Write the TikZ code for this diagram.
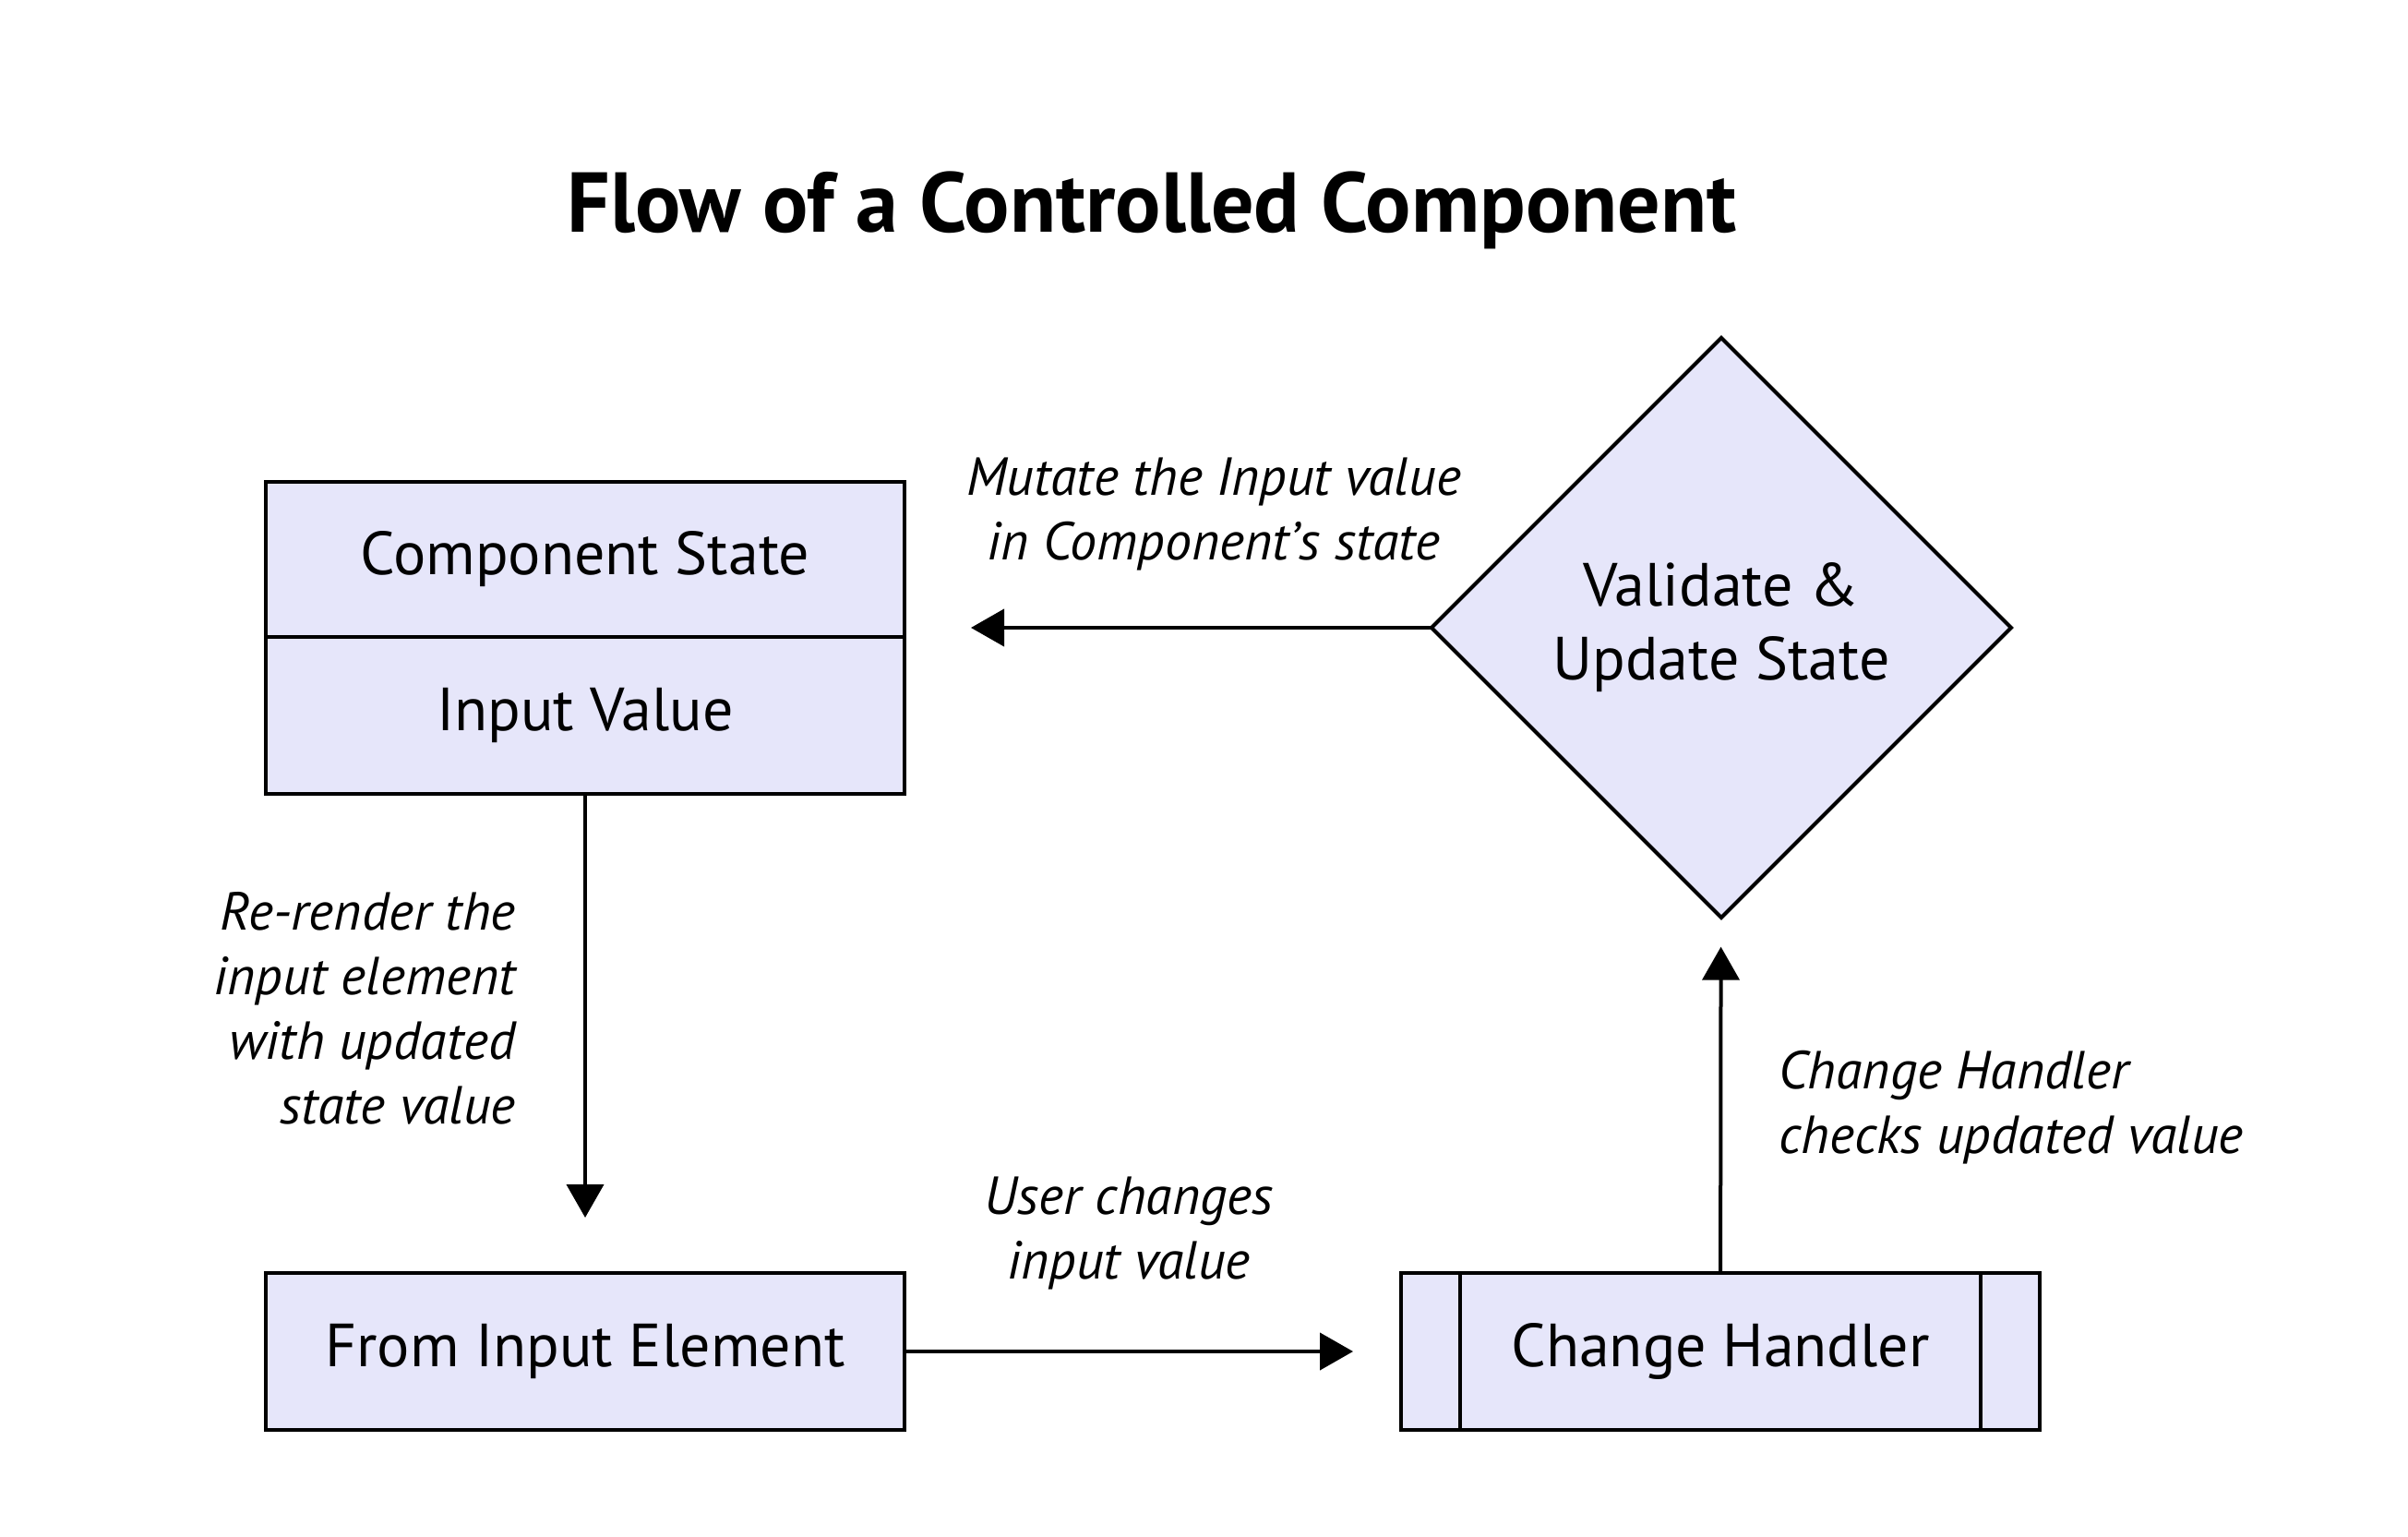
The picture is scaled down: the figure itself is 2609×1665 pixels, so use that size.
\documentclass[tikz,border=0pt]{standalone}
\usepackage{fontspec}
\setmainfont{PT Sans}
\usetikzlibrary{calc,shapes.geometric,arrows.meta}

\definecolor{boxfill}{HTML}{E6E6FA}

\begin{document}
\begin{tikzpicture}[x=0.5pt, y=-0.5pt, %one unit is one pixel of the picture, y runs down
  box/.style={draw, line width=2pt, fill=boxfill, minimum width=346pt, minimum height=85pt, inner sep=0pt, outer sep=0pt, font=\fontsize{33}{40}\selectfont},
  lbl/.style={font=\fontsize{29}{35}\selectfont\itshape, inner sep=0pt},
  arr/.style={line width=2pt, -{Triangle[length=18pt,width=20pt]}}]
\useasboundingbox (0,0) rectangle (2609,1665);

\node[font=\fontsize{46}{55}\selectfont\bfseries] (title) at (1248,228) {Flow of a Controlled Component};

%state box, two halves sharing one border
\node[box, minimum height=84pt] (cstate) at (634,606) {Component State};
\node[box, anchor=north] (ival) at (cstate.south) {Input Value};

\node[box, diamond, minimum width=314pt, minimum height=314pt, align=center] (valid) at (1865,680) {Validate \&\\Update State};

\node[box] (inel) at (634,1464) {From Input Element};
\node[box] (hand) at (1864,1464) {Change Handler};
\draw[line width=2pt] ($(hand.north west)+(64,0)$) -- ($(hand.south west)+(64,0)$)
  ($(hand.north east)+(-64,0)$) -- ($(hand.south east)+(-64,0)$);

%connectors
\draw[arr, shorten >=30pt] (ival) -- (inel);
\draw[arr, shorten >=26pt] (inel) -- (hand);
\draw[arr, shorten >=16pt] (hand) -- (valid);
\draw[arr, shorten >=36pt] (valid.west) -- (valid.west -| cstate.east);

\node[lbl, align=center] (mutate) at (1315,557) {Mutate the Input value\\in Component's state};
\node[lbl, align=right, anchor=east] (rerender) at (559,1092) {Re-render the\\input element\\with updated\\state value};
\node[lbl, align=center] (user) at (1223,1336) {User changes\\input value};
\node[lbl, align=left, anchor=west] (checks) at (1927,1200) {Change Handler\\checks updated value};
\end{tikzpicture}
\end{document}
